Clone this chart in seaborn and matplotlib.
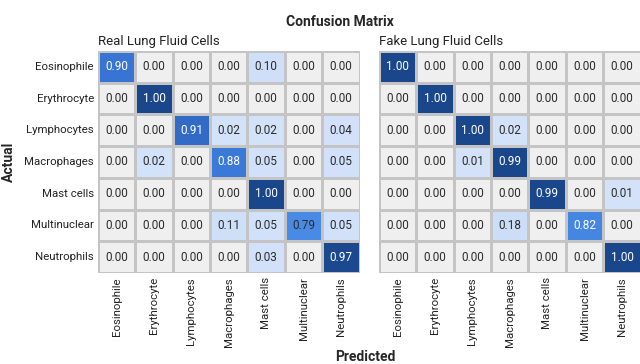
import matplotlib
matplotlib.use("Agg")
import matplotlib.pyplot as plt
import seaborn as sns
import numpy as np
import pandas as pd
from matplotlib.colors import LinearSegmentedColormap

classes = ["Eosinophile", "Erythrocyte", "Lymphocytes", "Macrophages",
           "Mast cells", "Multinuclear", "Neutrophils"]

real_cm = [
    [0.90, 0.00, 0.00, 0.00, 0.10, 0.00, 0.00],
    [0.00, 1.00, 0.00, 0.00, 0.00, 0.00, 0.00],
    [0.00, 0.00, 0.91, 0.02, 0.02, 0.00, 0.04],
    [0.00, 0.02, 0.00, 0.88, 0.05, 0.00, 0.05],
    [0.00, 0.00, 0.00, 0.00, 1.00, 0.00, 0.00],
    [0.00, 0.00, 0.00, 0.11, 0.05, 0.79, 0.05],
    [0.00, 0.00, 0.00, 0.00, 0.03, 0.00, 0.97],
]

fake_cm = [
    [1.00, 0.00, 0.00, 0.00, 0.00, 0.00, 0.00],
    [0.00, 1.00, 0.00, 0.00, 0.00, 0.00, 0.00],
    [0.00, 0.00, 1.00, 0.02, 0.00, 0.00, 0.00],
    [0.00, 0.00, 0.01, 0.99, 0.00, 0.00, 0.00],
    [0.00, 0.00, 0.00, 0.00, 0.99, 0.00, 0.01],
    [0.00, 0.00, 0.00, 0.18, 0.00, 0.82, 0.00],
    [0.00, 0.00, 0.00, 0.00, 0.00, 0.00, 1.00],
]

titles = ["Real Lung Fluid Cells", "Fake Lung Fluid Cells"]

cmap = LinearSegmentedColormap.from_list("cm", [
    (0.0, "#efefef"), (0.004, "#efefef"), (0.006, "#d3e2f9"),
    (0.3, "#c6d9f6"), (0.75, "#4f93ea"), (0.9, "#3876d6"),
    (0.94, "#1d4b92"), (1.0, "#1a468b"),
])

sns.set_style("white")
plt.rcParams["font.family"] = ["Roboto", "DejaVu Sans"]

fig = plt.figure(figsize=(6.4, 3.64), dpi=100)
positions = [[0.153, 0.25, 0.409, 0.61], [0.592, 0.25, 0.409, 0.61]]

for i, (cm, title) in enumerate(zip([real_cm, fake_cm], titles)):
    ax = fig.add_axes(positions[i])
    df = pd.DataFrame(cm, index=classes, columns=classes)
    arr = np.array(cm)
    sns.heatmap(df, ax=ax, cmap=cmap, vmin=0, vmax=1, cbar=False,
                annot=True, fmt=".2f", linewidths=1, linecolor="#c4c4c4",
                annot_kws={"fontsize": 8.5})
    for t, v in zip(ax.texts, arr.flatten()):
        t.set_color("white" if v >= 0.8 else "#2b2b2b")
    ax.set_xlabel("")
    ax.set_ylabel("")
    ax.tick_params(length=0, labelsize=8.2, pad=3)
    ax.set_xticklabels(classes, rotation=90, color="#222222")
    if i == 0:
        ax.set_yticklabels(classes, rotation=0, color="#222222")
    else:
        ax.set_yticklabels([])
    ax.text(0.0, 1.012, title, transform=ax.transAxes, fontsize=9.5,
            ha="left", va="bottom", color="#222222")

fig.text(0.531, 0.94, "Confusion Matrix", ha="center", va="center",
         fontsize=10, fontweight="bold")
fig.text(0.014, 0.555, "Actual", ha="center", va="center", rotation=90,
         fontsize=10, fontweight="bold")
fig.text(0.571, 0.018, "Predicted", ha="center", va="center",
         fontsize=10, fontweight="bold")

fig.savefig("out.png", dpi=100)
